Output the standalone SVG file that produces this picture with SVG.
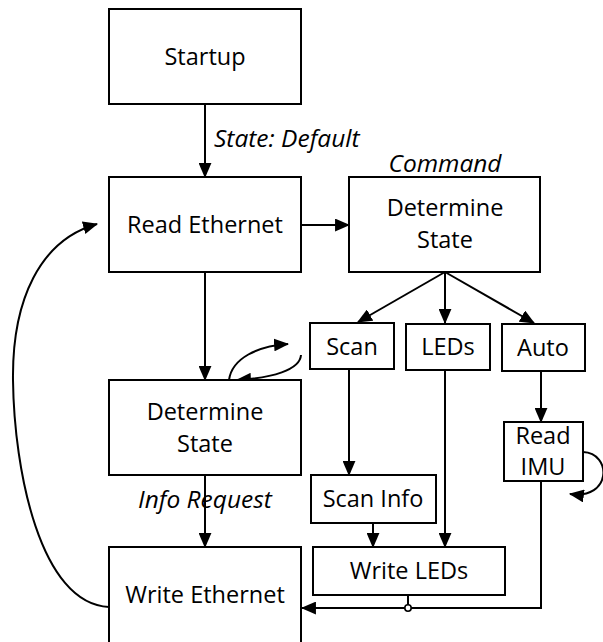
<svg xmlns="http://www.w3.org/2000/svg" width="603" height="642" viewBox="0 0 603 642">
  <defs>
    <marker id="arrow" viewBox="0 0 14 12" refX="13" refY="6" markerWidth="15" markerHeight="13" markerUnits="userSpaceOnUse" orient="auto">
      <path d="M0,0 L14,6 L0,12 Z" fill="#000"/>
    </marker>
    <style>
      rect.box { fill: #fff; stroke: #000; stroke-width: 2; }
      text { font-family: "Open Sans", "Liberation Sans", sans-serif; font-size: 23.5px; fill: #000; text-anchor: middle; }
      text.label { font-style: italic; font-size: 24.5px; }
      .edge { fill: none; stroke: #000; stroke-width: 2; }
      .arrow { marker-end: url(#arrow); }
    </style>
  </defs>
  <rect width="603" height="642" fill="#fff"/>

  <!-- connectors -->
  <g id="connectors">
    <path class="edge arrow" d="M205,104 L205,177"/>
    <path class="edge arrow" d="M301,225 L349,225"/>
    <path class="edge arrow" d="M445,272 L358,322"/>
    <path class="edge arrow" d="M445,272 L445,323"/>
    <path class="edge arrow" d="M445,272 L534,323"/>
    <path class="edge arrow" d="M205,272 L205,380"/>
    <path class="edge arrow" d="M229,380 C 232,358 258,346 288,344"/>
    <path class="edge arrow" d="M301,355 C 300,370 272,378 237,380"/>
    <path class="edge arrow" d="M205,475 L205,547"/>
    <path class="edge arrow" d="M349,369 L349,475"/>
    <path class="edge arrow" d="M373,523 L373,547"/>
    <path class="edge arrow" d="M445,370 L445,547"/>
    <path class="edge arrow" d="M541,371 L541,422"/>
    <path class="edge arrow" d="M583,452 C 612,453 612,500 570,494"/>
    <path class="edge arrow" d="M541,481 L541,608 L302,608"/>
    <path class="edge" d="M408,595 L408,605"/>
    <circle cx="408" cy="608" r="3.2" fill="#fff" stroke="#000" stroke-width="1.6"/>
    <path class="edge arrow" d="M109,607 C 40,604 14,470 13,380 C 12,300 40,240 97,224"/>
  </g>

  <!-- edge labels -->
  <text class="label" x="214" y="147" style="text-anchor:start">State: Default</text>
  <text class="label" x="445" y="172">Command</text>
  <text class="label" x="205" y="508">Info Request</text>

  <!-- nodes -->
  <g id="startup">
    <rect class="box" x="109" y="9" width="192" height="95"/>
    <text x="205" y="65">Startup</text>
  </g>
  <g id="read-ethernet">
    <rect class="box" x="109" y="177" width="192" height="95"/>
    <text x="205" y="233">Read Ethernet</text>
  </g>
  <g id="determine-command">
    <rect class="box" x="349" y="177" width="191" height="95"/>
    <text x="445" y="216">Determine</text>
    <text x="445" y="248">State</text>
  </g>
  <g id="scan">
    <rect class="box" x="310" y="323" width="84" height="46"/>
    <text x="352" y="355">Scan</text>
  </g>
  <g id="leds">
    <rect class="box" x="406" y="324" width="84" height="46"/>
    <text x="448" y="355">LEDs</text>
  </g>
  <g id="auto">
    <rect class="box" x="502" y="324" width="83" height="47"/>
    <text x="543" y="356">Auto</text>
  </g>
  <g id="determine-info">
    <rect class="box" x="109" y="380" width="192" height="95"/>
    <text x="205" y="420">Determine</text>
    <text x="205" y="452">State</text>
  </g>
  <g id="read-imu">
    <rect class="box" x="504" y="422" width="79" height="59"/>
    <text x="543" y="444">Read</text>
    <text x="543" y="475">IMU</text>
  </g>
  <g id="scan-info">
    <rect class="box" x="311" y="475" width="125" height="48"/>
    <text x="373" y="507">Scan Info</text>
  </g>
  <g id="write-leds">
    <rect class="box" x="313" y="547" width="192" height="48"/>
    <text x="409" y="579">Write LEDs</text>
  </g>
  <g id="write-ethernet">
    <rect class="box" x="109" y="547" width="192" height="110"/>
    <text x="205" y="603">Write Ethernet</text>
  </g>
</svg>
